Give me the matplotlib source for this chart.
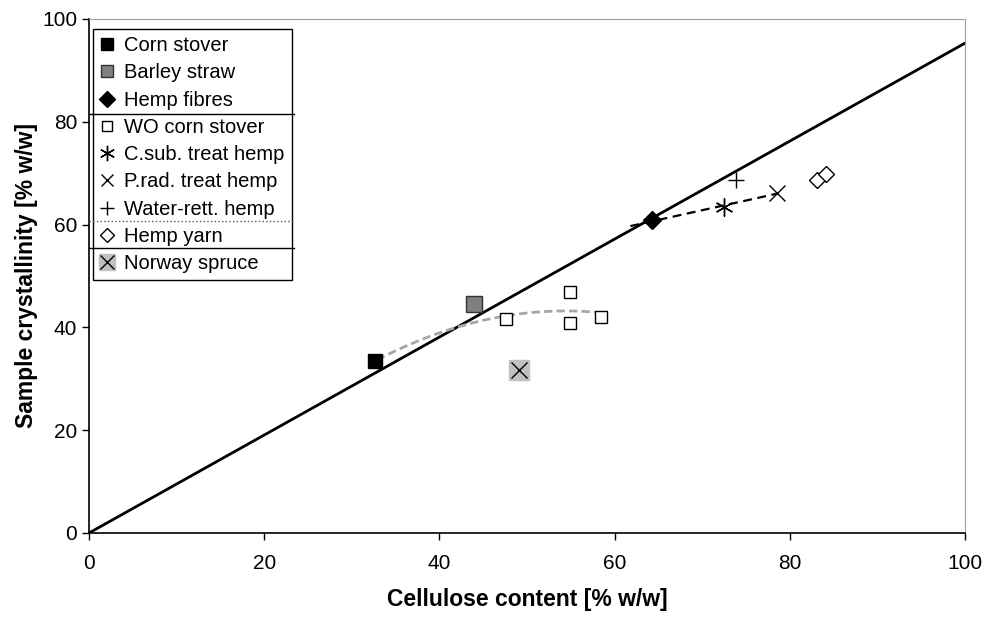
import numpy as np
import matplotlib.pyplot as plt

plt.rcParams['font.family'] = ['Liberation Sans', 'DejaVu Sans']

# --- data ---
corn_x, corn_y = [32.6], [33.5]
barley_x, barley_y = [43.9], [44.6]
hemp_x, hemp_y = [64.3], [60.8]
wo_x = [47.6, 54.9, 54.9, 58.5]
wo_y = [41.6, 46.9, 40.8, 42.1]
csub_x, csub_y = [72.5], [63.4]
prad_x, prad_y = [78.5], [66.2]
water_x, water_y = [73.9], [68.7]
yarn_x = [83.1, 84.1]
yarn_y = [68.7, 69.8]
spruce_x, spruce_y = [49.1], [31.7]

ref_x = [0, 100]
ref_y = [0, 95.3]

# trendline ranges (as drawn)
corn_fit_range = [32.9, 58.5]
hemp_fit_range = [61.8, 78.5]

fig = plt.figure(figsize=(9.9, 6.23), dpi=100)
ax = fig.add_axes([89 / 990, 1 - 533 / 623, (965 - 89) / 990, (533 - 19) / 623])

# reference line
ax.plot(ref_x, ref_y, color='black', lw=2, zorder=2)

# trendlines
cx = np.array(corn_x + wo_x)
cy = np.array(corn_y + wo_y)
pc = np.polyfit(cx, cy, 2)
xs = np.linspace(*corn_fit_range, 60)
ax.plot(xs, np.polyval(pc, xs), color='#a6a6a6', lw=2, ls=(0, (3, 1.5)), zorder=3)

hx = np.array(hemp_x + csub_x + prad_x)
hy = np.array(hemp_y + csub_y + prad_y)
ph = np.polyfit(hx, hy, 1)
xs = np.linspace(*hemp_fit_range, 10)
ax.plot(xs, np.polyval(ph, xs), color='black', lw=1.6, ls=(0, (4, 2.5)), zorder=3)

# markers
h_corn, = ax.plot(corn_x, corn_y, 's', ms=10, mfc='black', mec='black', ls='none', zorder=4)
h_barley, = ax.plot(barley_x, barley_y, 's', ms=11, mfc='#808080', mec='#333333', mew=1, ls='none', zorder=4)
h_hemp, = ax.plot(hemp_x, hemp_y, 'D', ms=9, mfc='black', mec='black', ls='none', zorder=4)
h_wo, = ax.plot(wo_x, wo_y, 's', ms=9, mfc='white', mec='black', mew=1, ls='none', zorder=4)
h_csub, = ax.plot(csub_x, csub_y, marker=(6, 2, 0), ms=13, color='black', mew=1, ls='none', zorder=4)
h_prad, = ax.plot(prad_x, prad_y, 'x', ms=11, color='black', mew=1, ls='none', zorder=4)
h_water, = ax.plot(water_x, water_y, '+', ms=12, color='black', mew=1, ls='none', zorder=4)
h_yarn, = ax.plot(yarn_x, yarn_y, 'D', ms=8, mfc='white', mec='black', mew=1, ls='none', zorder=4)
h_spr1, = ax.plot(spruce_x, spruce_y, 's', ms=14, mfc='#c0c0c0', mec='#c0c0c0', ls='none', zorder=4)
h_spr2, = ax.plot(spruce_x, spruce_y, 'x', ms=12, color='black', mew=1, ls='none', zorder=5)

ax.set_xlim(0, 100)
ax.set_ylim(0, 100)
ax.set_xticks(range(0, 101, 20))
ax.set_yticks(range(0, 101, 20))
ax.tick_params(axis='both', labelsize=15, length=5, width=1, direction='out')
ax.tick_params(axis='x', pad=10)
for s in ['top', 'right']:
    ax.spines[s].set_color('#a0a0a0')
for s in ['left', 'bottom']:
    ax.spines[s].set_linewidth(1.2)

ax.set_xlabel('Cellulose content [% w/w]', fontsize=16.5, fontweight='bold', labelpad=11)
ax.set_ylabel('Sample crystallinity [% w/w]', fontsize=16.5, fontweight='bold', labelpad=3)

# legend
handles = [h_corn, h_barley, h_hemp, h_wo, h_csub, h_prad, h_water, h_yarn, (h_spr1, h_spr2)]
labels = ['Corn stover', 'Barley straw', 'Hemp fibres', 'WO corn stover',
          'C.sub. treat hemp', 'P.rad. treat hemp', 'Water-rett. hemp',
          'Hemp yarn', 'Norway spruce']
leg = ax.legend(handles, labels, loc='upper left', bbox_to_anchor=(4 / 876, 1 - 10 / 514),
                fontsize=14.5, frameon=True, fancybox=False, edgecolor='black',
                framealpha=1, handlelength=0.7, handletextpad=0.5, labelspacing=0.41,
                borderpad=0.35, borderaxespad=0, markerscale=0.85)
leg.get_frame().set_linewidth(1)

# separators between the stacked legend groups
x_right = (294 - 89) / 876
for ypix, style, col in [(114, '-', 'black'), (221, ':', '#555555'), (248, '-', 'black')]:
    yv = (533 - ypix) / 514
    ax.plot([0, x_right], [yv, yv], transform=ax.transAxes, color=col, ls=style,
            lw=1, zorder=10, clip_on=False)

fig.savefig('out.png', dpi=100)
